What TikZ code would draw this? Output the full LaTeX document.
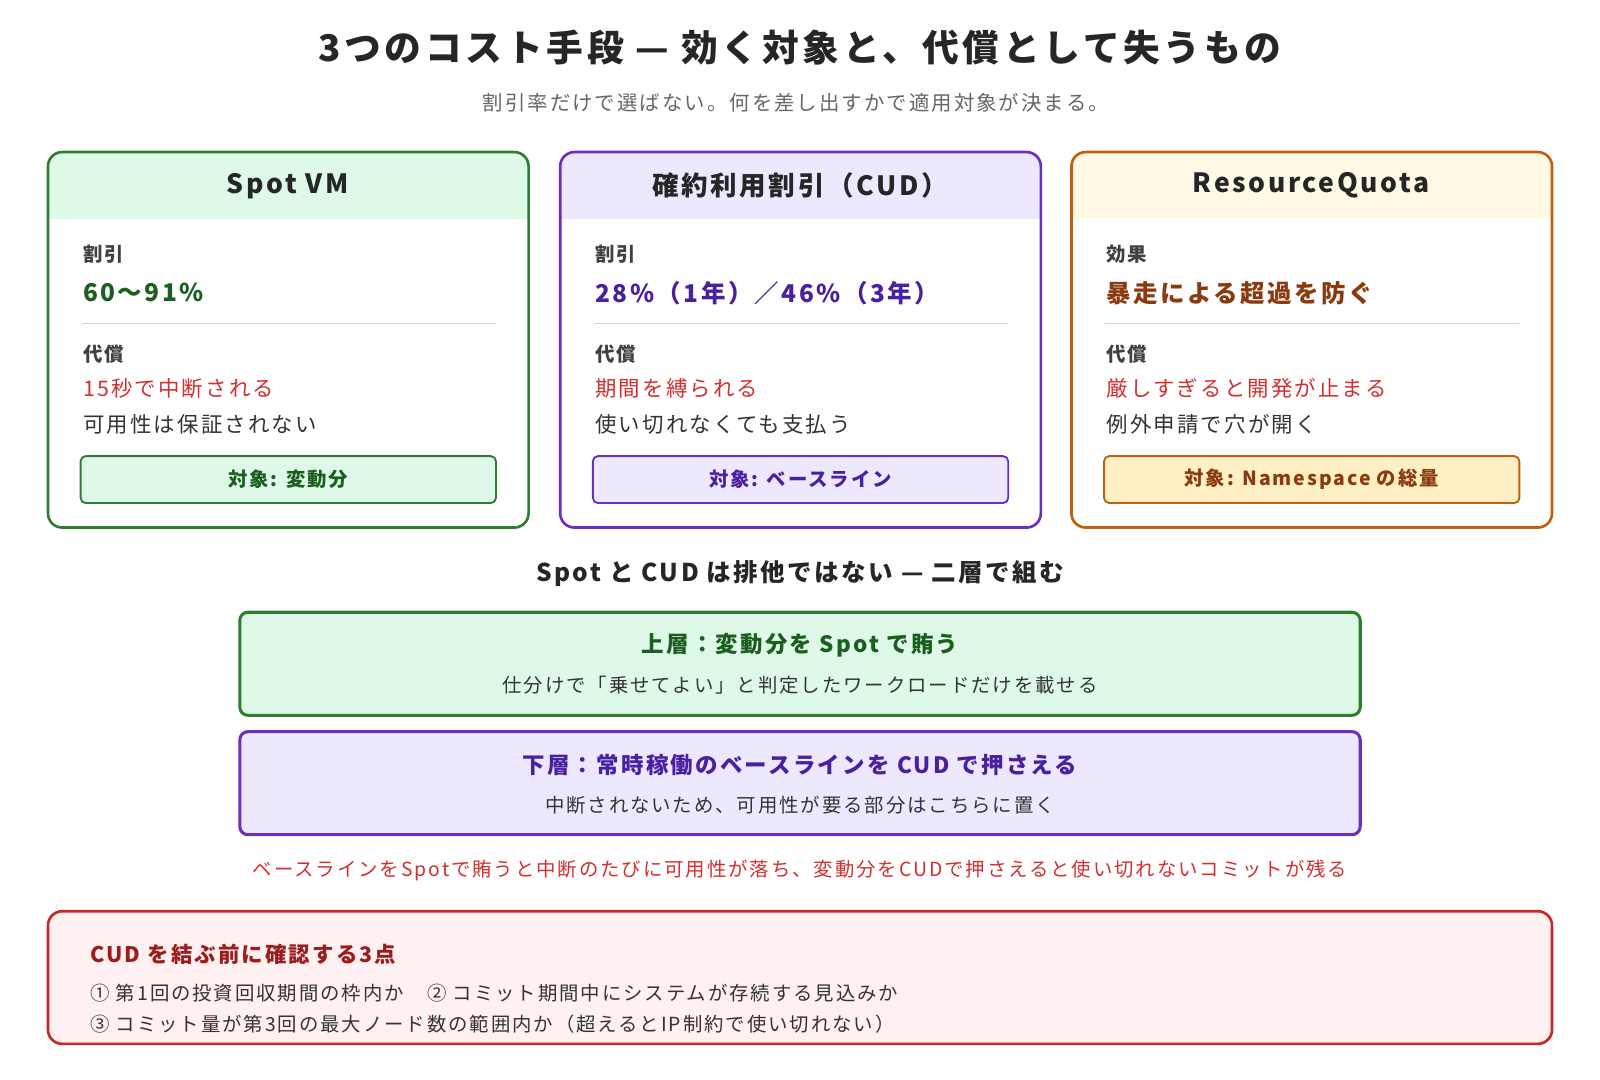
\documentclass[tikz,border=0pt]{standalone}
\usepackage{fontspec}
\setmainfont{Noto Sans CJK JP}[LetterSpace=10]
\begin{document}
\begin{tikzpicture}[x=1pt,y=-1pt,
  card/.style={line width=2.6pt,rounded corners=14pt},
  lab/.style={anchor=west,text=black!75,font=\bfseries\fontsize{19}{19}\selectfont},
  val/.style={anchor=west,font=\bfseries\fontsize{24}{24}\selectfont},
  txt/.style={anchor=west,font=\fontsize{21}{21}\selectfont},
  tag/.style={line width=1.8pt,rounded corners=5pt,minimum width=407pt,minimum height=46pt,font=\bfseries\fontsize{19}{19}\selectfont},
  layer/.style={line width=3pt,rounded corners=8pt,minimum width=1098pt,minimum height=101pt}]
\definecolor{gB}{HTML}{2E7D32}\definecolor{gF}{HTML}{DFF9E8}\definecolor{gT}{HTML}{1B5E20}
\definecolor{pB}{HTML}{6A2FC0}\definecolor{pF}{HTML}{EEE8FF}\definecolor{pT}{HTML}{4A1FA0}
\definecolor{oB}{HTML}{C0600F}\definecolor{oF}{HTML}{FFF9E6}\definecolor{oTag}{HTML}{FEF0C4}\definecolor{oT}{HTML}{8B3A0F}
\definecolor{rT}{HTML}{D32F2F}\definecolor{rB}{HTML}{C62828}\definecolor{rF}{HTML}{FFF0F1}\definecolor{rH}{HTML}{9B1C1C}
\definecolor{dk}{HTML}{333333}
\useasboundingbox[fill=white] (0,0) rectangle (1568,1058);
\node[font=\bfseries\fontsize{36}{36}\selectfont,text=black!85] (title) at (784,47) {3つのコスト手段 — 効く対象と、代償として失うもの};
\node[font=\fontsize{20}{20}\selectfont,text=black!60] (sub) at (780,101) {割引率だけで選ばない。何を差し出すかで適用対象が決まる。};
% cards
\newcommand\mycard[9]{%
  \begin{scope}[xshift=#1]
  \fill[white,rounded corners=14pt] (47,149) rectangle (518,517);
  \begin{scope}
  \clip[rounded corners=14pt] (47,149) rectangle (518,517);
  \fill[#3] (47,149) rectangle (518,215);
  \end{scope}
  \draw[card,#2] (47,149) rectangle (518,517);
  \node[font=\bfseries\fontsize{26}{26}\selectfont,text=black!85] at (282,182) {#4};
  \node[lab] at (78,249) {#5};
  \node[val,text=#6] at (78,287) {#7};
  \draw[black!15,line width=1.2pt] (80,317) -- (486,317);
  \node[lab] at (78,347) {代償};
  \node[txt,text=rT] at (78,381) {#8};
  \node[txt,text=dk] at (78,416) {#9};
  \end{scope}}
\mycard{0}{gB}{gF}{Spot VM}{割引}{gT}{60〜91\%}{15秒で中断される}{可用性は保証されない}
\mycard{502}{pB}{pF}{確約利用割引（CUD）}{割引}{pT}{28\%（1年）／46\%（3年）}{期間を縛られる}{使い切れなくても支払う}
\mycard{1003}{oB}{oF}{ResourceQuota}{効果}{oT}{暴走による超過を防ぐ}{厳しすぎると開発が止まる}{例外申請で穴が開く}
\node[tag,draw=gB,fill=gF,text=gT] (t1) at (282.5,470) {対象: 変動分};
\node[tag,draw=pB,fill=pF,text=pT] (t2) at (784.5,470) {対象: ベースライン};
\node[tag,draw=oB,fill=oTag,text=oT] (t3) at (1285.5,470) {対象: Namespace の総量};
% layers
\node[font=\bfseries\fontsize{24}{24}\selectfont,text=black!85] (sec) at (784,562) {Spot と CUD は排他ではない — 二層で組む};
\node[layer,draw=gB,fill=gF] (up) at (784,650.5) {};
\node[font=\bfseries\fontsize{22}{22}\selectfont,text=gT] at (784,632) {上層：変動分を Spot で賄う};
\node[font=\fontsize{19}{19}\selectfont,text=dk] at (784,671) {仕分けで「乗せてよい」と判定したワークロードだけを載せる};
\node[layer,draw=pB,fill=pF] (lo) at (784,767.5) {};
\node[font=\bfseries\fontsize{22}{22}\selectfont,text=pT] at (784,750) {下層：常時稼働のベースラインを CUD で押さえる};
\node[font=\fontsize{19}{19}\selectfont,text=dk] at (784,789) {中断されないため、可用性が要る部分はこちらに置く};
\node[font=\fontsize{19}{19}\selectfont,text=rT] (note) at (784,853) {ベースラインをSpotで賄うと中断のたびに可用性が落ち、変動分をCUDで押さえると使い切れないコミットが残る};
% bottom
\draw[line width=2.6pt,draw=rB,fill=rF,rounded corners=14pt] (47,893) rectangle (1521,1023);
\node[anchor=west,font=\bfseries\fontsize{21}{21}\selectfont,text=rH] (bt) at (85,935) {CUD を結ぶ前に確認する3点};
\node[anchor=west,font=\fontsize{19}{19}\selectfont,text=dk] (b1) at (85,973) {① 第1回の投資回収期間の枠内か　② コミット期間中にシステムが存続する見込みか};
\node[anchor=west,font=\fontsize{19}{19}\selectfont,text=dk] (b2) at (85,1004) {③ コミット量が第3回の最大ノード数の範囲内か（超えるとIP制約で使い切れない）};
\end{tikzpicture}
\end{document}
